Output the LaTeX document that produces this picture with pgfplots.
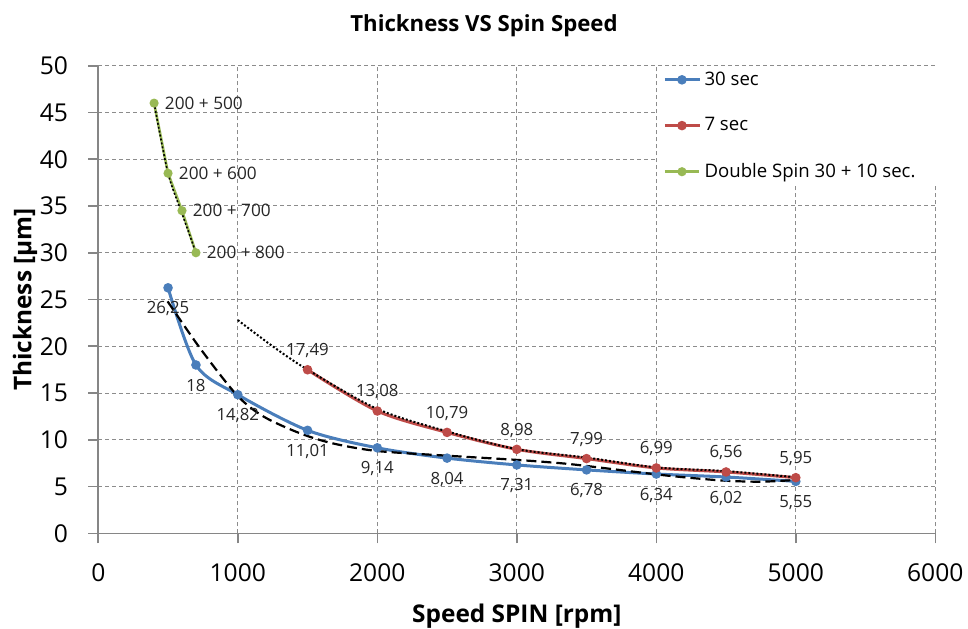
\documentclass[border=0pt]{standalone}
\usepackage{fontspec}
\setmainfont{Open Sans}
\usepackage{pgfplots}
\usepackage{pgfplotstable}
\pgfplotsset{compat=1.18}

\definecolor{sblue}{HTML}{4A7EBB}
\definecolor{sred}{HTML}{BE4B48}
\definecolor{sgreen}{HTML}{98B954}
\definecolor{gridgray}{HTML}{8C8C8C}
\definecolor{axgray}{HTML}{868686}
\definecolor{labgray}{HTML}{262626}

\pgfplotstableread{
x y lab
500 26.25 26,25
700 18 18
1000 14.82 14,82
1500 11.01 11,01
2000 9.14 9,14
2500 8.04 8,04
3000 7.31 7,31
3500 6.78 6,78
4000 6.34 6,34
4500 6.02 6,02
5000 5.55 5,55
}\tabblue

\pgfplotstableread{
x y lab
1500 17.49 17,49
2000 13.08 13,08
2500 10.79 10,79
3000 8.98 8,98
3500 7.99 7,99
4000 6.99 6,99
4500 6.56 6,56
5000 5.95 5,95
}\tabred

\pgfplotstableread{
x y lab
400 46 {200 + 500}
500 38.5 {200 + 600}
600 34.5 {200 + 700}
700 30 {200 + 800}
}\tabgreen

\begin{document}
\begin{tikzpicture}
\begin{axis}[
  scale only axis, width=418.5pt, height=233.8pt,
  xmin=0, xmax=6000, ymin=0, ymax=50,
  xtick={0,1000,...,6000}, ytick={0,5,...,50},
  axis x line*=bottom, axis y line*=left,
  axis line style={axgray, line width=0.8pt, -},
  tick align=outside, major tick length=5pt,
  tick style={axgray, line width=0.8pt},
  grid=major,
  major grid style={gridgray, line width=0.5pt, dash pattern=on 2pt off 1.5pt},
  /pgf/number format/assume math mode=true,
  /pgf/number format/1000 sep={},
  ticklabel style={font=\fontsize{12.3}{12.3}\selectfont, text=black},
  xticklabel style={anchor=north, inner sep=0pt},
  yticklabel style={anchor=east, inner sep=0pt},
  xticklabel shift=10pt, yticklabel shift=10pt,
  title={Thickness VS Spin Speed},
  title style={font=\bfseries\fontsize{11.1}{12}\selectfont, at={(axis description cs:0.4608,1)}, anchor=center, yshift=14.2pt},
  xlabel={Speed SPIN [rpm]},
  xlabel style={font=\bfseries\fontsize{12.2}{12}\selectfont, at={(axis description cs:0.5,0)}, anchor=center, yshift=-41.3pt},
  ylabel={Thickness [µm]},
  ylabel style={font=\bfseries\fontsize{12.2}{12}\selectfont, at={(axis description cs:0,0.5)}, anchor=center, yshift=36.6pt},
  legend style={at={(axis description cs:0.6675,0.999)}, anchor=north west, draw=none, fill=white,
    font=\fontsize{9.3}{10}\selectfont, row sep=10.7pt, inner xsep=3pt, inner ysep=0.5pt},
  legend cell align=left,
  every axis plot/.append style={line width=1.5pt},
]
\addplot[sblue, smooth, mark=*, mark size=1.6pt, mark options={solid, fill=sblue},
  nodes near coords, point meta=explicit symbolic,
  nodes near coords style={font=\fontsize{8.4}{8}\selectfont, text=labgray, anchor=center, yshift=-10.5pt}]
  table[x=x, y=y, meta=lab] {\tabblue};
\addlegendentry{30 sec}
\addplot[sred, smooth, mark=*, mark size=1.6pt, mark options={solid, fill=sred},
  nodes near coords, point meta=explicit symbolic,
  nodes near coords style={font=\fontsize{8.4}{8}\selectfont, text=labgray, anchor=center, yshift=9.5pt}]
  table[x=x, y=y, meta=lab] {\tabred};
\addlegendentry{7 sec}
\addplot[sgreen, line width=1.3pt, mark=*, mark size=1.6pt, mark options={solid, fill=sgreen},
  nodes near coords, point meta=explicit symbolic,
  nodes near coords style={font=\fontsize{8.6}{8}\selectfont, text=labgray, anchor=west, inner sep=0pt, xshift=4.8pt}]
  table[x=x, y=y, meta=lab] {\tabgreen};
\addlegendentry{\makebox[112pt][l]{Double Spin 30 + 10 sec.}}

% trend lines
\addplot[forget plot, black, line width=1.1pt, dash pattern=on 5pt off 2.5pt, smooth, mark=none] coordinates {
(497,24.8) (729,19.8) (992,14.8) (1183,12.5) (1445,10.7) (1685,9.6) (2000,8.8) (2500,8.3)
(3000,7.85) (3310,7.5) (3500,7.2) (4000,6.3) (4265,5.9) (4500,5.62) (4750,5.52) (5000,5.7)};
\addplot[forget plot, black, line width=1pt, dash pattern=on 1pt off 1pt, smooth, mark=none] coordinates {
(1000,22.8) (1250,20.0) (1500,17.5) (2000,13.3) (2500,10.9) (3000,9.0) (3500,8.1) (4000,7.05) (4500,6.65) (5000,6.0)};
\addplot[forget plot, black, line width=0.8pt, dash pattern=on 1pt off 1pt, smooth, mark=none] coordinates {
(400,46) (500,38.5) (600,34.2) (700,30)};
\end{axis}
\pgfresetboundingbox
\useasboundingbox (-49.15pt,-47.35pt) rectangle (434.85pt,266.65pt);
\end{tikzpicture}
\end{document}
